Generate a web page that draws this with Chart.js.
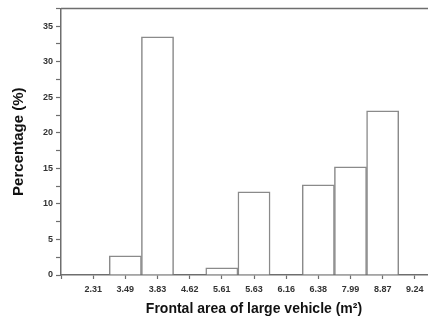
<!DOCTYPE html>
<html>
<head>
<meta charset="utf-8">
<script src="https://cdn.jsdelivr.net/npm/chart.js@4.4.0/dist/chart.umd.min.js"></script>
<style>
html, body { margin: 0; padding: 0; background: #fff; overflow: hidden; }
canvas { display: block; }
</style>
</head>
<body>
<canvas id="chart" width="452" height="320"></canvas>
<script>
// frontal area bins (m²) and share of large vehicles falling in each
const areaBins = ['2.31', '3.49', '3.83', '4.62', '5.61', '5.63', '6.16', '6.38', '7.99', '8.87', '9.24'];
const percentages = [0, 2.7, 33.5, 0, 1.0, 11.7, 0, 12.7, 15.2, 23.1, 0];
const yTicks = [0, 5, 10, 15, 20, 25, 30, 35];

const axisColor = '#6e6e6e';
const textColor = '#333';

// closes the frame on top, the source figure has no right edge visible
const topBorder = {
    id: 'topBorder',
    afterDraw(chart) {
        const { ctx, chartArea } = chart;
        ctx.save();
        ctx.strokeStyle = axisColor;
        ctx.lineWidth = 1.5;
        ctx.beginPath();
        ctx.moveTo(chartArea.left, chartArea.top);
        ctx.lineTo(chartArea.right, chartArea.top);
        ctx.stroke();
        ctx.restore();
    }
};

// one empty slot either side so the first bin sits a full step in from the axis
const labels = [''].concat(areaBins, ['']);
const values = [null].concat(percentages.map(v => v === 0 ? null : v), [null]);

new Chart(document.getElementById('chart'), {
    type: 'bar',
    data: {
        labels: labels,
        datasets: [{
            data: values,
            backgroundColor: '#fff',
            borderColor: '#8a8a8a',
            borderWidth: 1.5,
            borderSkipped: 'bottom',
            barPercentage: 1,
            categoryPercentage: 1
        }]
    },
    options: {
        responsive: false,
        animation: false,
        layout: { padding: { top: 6, right: 4, left: 0, bottom: 0 } },
        plugins: {
            legend: { display: false },
            tooltip: { enabled: false }
        },
        scales: {
            x: {
                offset: false,
                grid: {
                    offset: false,
                    drawOnChartArea: false,
                    drawTicks: true,
                    tickLength: 4,
                    tickColor: axisColor,
                    tickWidth: 1.2
                },
                border: { color: axisColor, width: 1.5 },
                ticks: {
                    color: textColor,
                    font: { family: 'Liberation Sans, Arial, sans-serif', size: 9, weight: 'bold' },
                    padding: 5,
                    maxRotation: 0,
                    autoSkip: false
                },
                title: {
                    display: true,
                    text: 'Frontal area of large vehicle (m²)',
                    color: '#111',
                    font: { family: 'Liberation Sans, Arial, sans-serif', size: 14, weight: 'bold' },
                    padding: { top: 0, bottom: 2 }
                },
                afterFit(scale) { scale.height = 45; }
            },
            y: {
                min: 0,
                max: 37.5,
                grid: {
                    drawOnChartArea: false,
                    drawTicks: true,
                    tickLength: 5,
                    tickColor: axisColor,
                    tickWidth: 1.2
                },
                border: { color: axisColor, width: 1.5 },
                ticks: {
                    stepSize: 2.5,
                    color: textColor,
                    font: { family: 'Liberation Sans, Arial, sans-serif', size: 9, weight: 'bold' },
                    padding: 3,
                    callback: v => yTicks.includes(v) ? v : ''
                },
                title: {
                    display: true,
                    text: 'Percentage (%)',
                    color: '#111',
                    font: { family: 'Liberation Sans, Arial, sans-serif', size: 15, weight: 'bold' },
                    padding: { top: 10, bottom: 0 }
                },
                afterFit(scale) { scale.width = 61; }
            }
        }
    },
    plugins: [topBorder]
});
</script>
</body>
</html>
